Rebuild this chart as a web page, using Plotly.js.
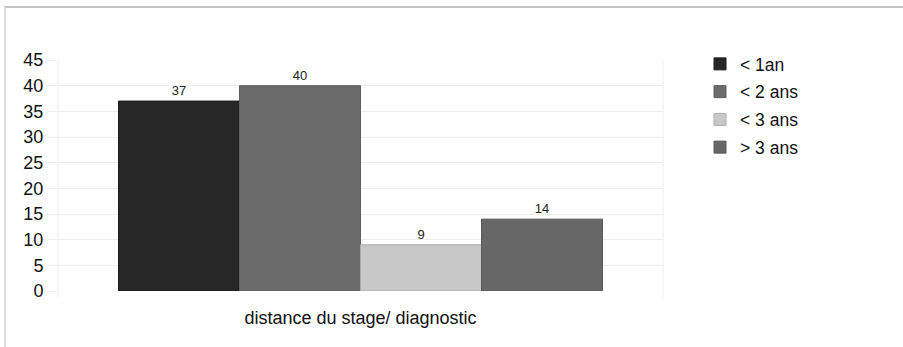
<!DOCTYPE html>
<html><head><meta charset="utf-8">
<script src="https://cdn.plot.ly/plotly-3.0.1.min.js"></script>
<style>html,body{margin:0;padding:0;background:#fff;}#chart{width:903px;height:347px;}</style>
</head><body><div id="chart"></div>
<script>
const category = ["distance du stage/ diagnostic"];
const seriesNames = ["< 1an", "< 2 ans", "< 3 ans", "> 3 ans"];
const seriesValues = [37, 40, 9, 14];
const seriesColors = ["#262626", "#6b6b6b", "#c8c8c8", "#676767"];
const lineColors = ["#1e1e1e", "#5e5e5e", "#ababab", "#5a5a5a"];
const yTicks = [0, 5, 10, 15, 20, 25, 30, 35, 40, 45];

const font = "Liberation Sans, Arial, sans-serif";
const traces = seriesNames.map((n, i) => ({
  type: "bar", name: n, legendgroup: "g" + i, x: category, y: [seriesValues[i]],
  text: [String(seriesValues[i])], textposition: "outside", cliponaxis: false,
  textfont: {size: 13, color: "#222", family: font},
  marker: {color: seriesColors[i], line: {color: lineColors[i], width: 1}},
  hoverinfo: "skip"
}));

const W = 903, H = 347, L = 58, R = 240, T = 60, B = 56;
const pw = W - L - R, ph = H - T - B;
const px = v => (v - L) / pw, py = v => (H - B - v) / ph;

Plotly.newPlot("chart", traces, {
  width: W, height: H,
  margin: {l: L, r: R, t: T, b: B, pad: 0},
  paper_bgcolor: "#fff", plot_bgcolor: "#fff",
  font: {family: font, color: "#111"},
  barmode: "group", bargap: 0.2, bargroupgap: 0,
  showlegend: true,
  legend: {x: px(700), y: py(46), xanchor: "left", yanchor: "top",
    font: {size: 17.5, family: font, color: "#111"}, tracegroupgap: 2, itemwidth: 30,
    bgcolor: "rgba(0,0,0,0)"},
  xaxis: {type: "category", showgrid: false, zeroline: false, showline: false, ticks: "",
    tickfont: {size: 18, family: font, color: "#111"}, ticklabelstandoff: 14},
  yaxis: {range: [0, 45], tickvals: yTicks, ticktext: yTicks.map(String),
    showgrid: true, gridcolor: "#eeeeee", gridwidth: 1, zeroline: false, showline: false,
    ticks: "outside", ticklen: 10, tickcolor: "#eeeeee",
    tickfont: {size: 18, family: font, color: "#111"}},
  shapes: [
    {type: "line", xref: "paper", yref: "paper", x0: 0, x1: 0, y0: py(298), y1: 1, line: {color: "#eeeeee", width: 1}, layer: "below"},
    {type: "line", xref: "paper", yref: "paper", x0: 1, x1: 1, y0: py(298), y1: 1, line: {color: "#eeeeee", width: 1}, layer: "below"},
    {type: "line", xref: "paper", yref: "paper", x0: px(4), x1: px(903), y0: py(7), y1: py(7), line: {color: "#c4c4c4", width: 2}},
    {type: "line", xref: "paper", yref: "paper", x0: px(5), x1: px(5), y0: py(347), y1: py(7), line: {color: "#dcdcdc", width: 2}}
  ]
}, {displayModeBar: false, staticPlot: true});
</script></body></html>
